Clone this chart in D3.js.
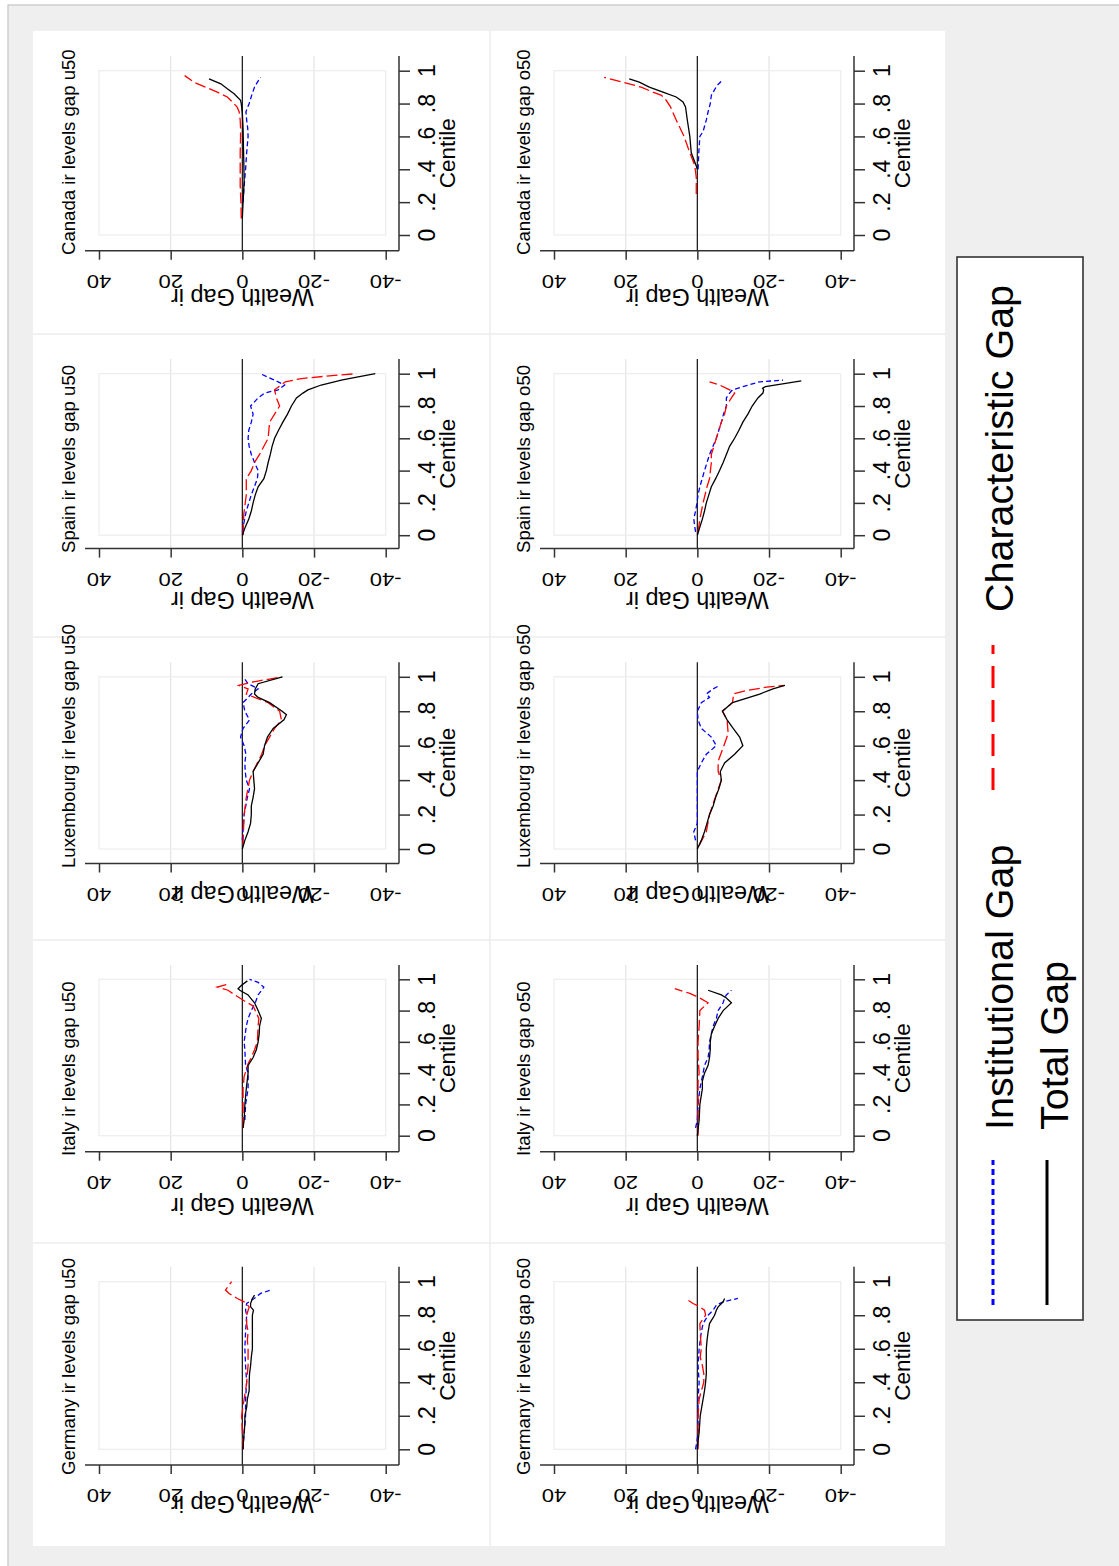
<!DOCTYPE html>
<html><head><meta charset="utf-8">
<script src="https://cdn.jsdelivr.net/npm/d3@7"></script>
<style>body{margin:0;background:#fff}text{font-family:"Liberation Sans",Arial,sans-serif;fill:#000}</style>
</head><body>
<script>
// ---------------- DATA ----------------
const countries = ["Canada","Spain","Luxembourg","Italy","Germany"];
const groups = ["u50","o50"];
const seriesNames = ["Institutional Gap","Characteristic Gap","Total Gap"];
const valueTicks = [40,20,0,-20,-40];
const centileTicks = [0,0.2,0.4,0.6,0.8,1];
const centileLabels = ["0",".2",".4",".6",".8","1"];

// each point: [centile, wealth gap]
const canada_u50_inst = [[0.2,-0.2],[0.3,-0.5],[0.4,-0.9],[0.5,-1.2],[0.6,-1.6],[0.65,-1.5],[0.7,-1.2],[0.75,-1.0],[0.8,-1.9],[0.85,-2.6],[0.9,-3.4],[0.93,-4.2],[0.96,-5.1]];
const canada_u50_char = [[0.1,0.3],[0.2,0.4],[0.3,0.6],[0.4,0.6],[0.5,0.6],[0.6,0.5],[0.65,0.5],[0.7,0.6],[0.75,0.9],[0.78,1.5],[0.81,2.8],[0.84,4.2],[0.87,7],[0.9,10.3],[0.93,13.5],[0.97,16.1]];
const canada_u50_total = [[0.1,0],[0.2,-0.2],[0.33,-0.5],[0.45,-0.4],[0.54,-0.3],[0.65,-0.2],[0.74,0],[0.8,0.3],[0.82,0.5],[0.86,2.3],[0.89,4.2],[0.92,6],[0.95,9.3]];

const canada_o50_inst = [[0.4,-0.2],[0.5,-0.4],[0.6,-0.7],[0.63,-1.6],[0.7,-2.5],[0.75,-3],[0.8,-3.6],[0.85,-3.9],[0.88,-4.7],[0.91,-5.5],[0.94,-6.9]];
const canada_o50_char = [[0.25,0.3],[0.35,0.3],[0.42,0.7],[0.45,1.2],[0.5,2.1],[0.6,3.7],[0.7,5.9],[0.78,7.5],[0.82,8.7],[0.85,10],[0.87,12.4],[0.9,15.7],[0.93,20.8],[0.96,26]];
const canada_o50_total = [[0.4,0],[0.42,0.3],[0.5,1.7],[0.6,2.1],[0.7,2.8],[0.78,3.3],[0.81,4],[0.84,5.9],[0.87,9.6],[0.9,13.4],[0.93,16.2],[0.95,19]];

const spain_u50_inst = [[0.02,0],[0.05,-0.2],[0.15,-1.1],[0.25,-2.5],[0.35,-4.2],[0.4,-4.4],[0.45,-3.4],[0.5,-2.5],[0.55,-1.9],[0.6,-1.6],[0.65,-1.8],[0.7,-2.5],[0.75,-3],[0.8,-2.3],[0.85,-4.4],[0.88,-6.2],[0.9,-10],[0.93,-11.8],[0.96,-9],[1.0,-5]];
const spain_u50_char = [[0.0,-0.2],[0.13,-0.4],[0.25,-1.1],[0.35,-1.1],[0.4,-2.5],[0.45,-3.4],[0.5,-4.8],[0.6,-7.2],[0.7,-7.6],[0.75,-9],[0.8,-10.4],[0.85,-9.5],[0.9,-9],[0.95,-12],[0.97,-16.5],[0.99,-25.8],[1.0,-31.8]];
const spain_u50_total = [[0,0],[0.05,-0.8],[0.1,-1.8],[0.15,-2.5],[0.2,-3],[0.25,-3.6],[0.3,-4.4],[0.35,-6],[0.4,-6.7],[0.45,-7.2],[0.5,-7.8],[0.55,-8.3],[0.6,-9],[0.65,-10.1],[0.7,-11.3],[0.75,-12.6],[0.8,-13.7],[0.85,-15.1],[0.88,-16.9],[0.9,-18.3],[0.93,-22],[0.96,-27.6],[0.98,-32.3],[1.0,-37.1]];

const spain_o50_inst = [[0.02,0.5],[0.05,0.7],[0.1,1],[0.15,0.5],[0.2,0.1],[0.25,-0.2],[0.3,-0.7],[0.4,-2],[0.5,-3.4],[0.6,-5.3],[0.7,-6.7],[0.75,-7.3],[0.8,-8.1],[0.85,-8.1],[0.88,-9],[0.9,-9.8],[0.92,-12.7],[0.95,-17.4],[0.96,-23.9]];
const spain_o50_char = [[0.02,-0.2],[0.1,-0.7],[0.2,-1.6],[0.3,-2.7],[0.35,-3.4],[0.45,-3.9],[0.5,-3.9],[0.55,-4.6],[0.6,-5.3],[0.7,-6.7],[0.75,-7.6],[0.8,-8.1],[0.85,-9.5],[0.88,-10.4],[0.9,-9],[0.93,-6.2],[0.95,-3.4]];
const spain_o50_total = [[0,0],[0.05,-0.7],[0.1,-1.4],[0.15,-2],[0.2,-2.5],[0.25,-3.2],[0.3,-3.9],[0.35,-5.1],[0.4,-6.2],[0.45,-7.2],[0.5,-8.1],[0.55,-9],[0.6,-10.4],[0.65,-11.6],[0.7,-12.7],[0.75,-14.1],[0.8,-15.3],[0.85,-16.9],[0.88,-18.3],[0.9,-18.5],[0.91,-18.2],[0.92,-19],[0.955,-29]];

const luxembourg_u50_inst = [[0.05,0],[0.2,-0.5],[0.3,-1.4],[0.35,-2],[0.4,-1.1],[0.45,-0.8],[0.5,-0.7],[0.55,-1],[0.6,-0.5],[0.65,0.5],[0.7,-0.2],[0.75,-2],[0.8,-0.7],[0.85,-0.2],[0.9,-2.5],[0.93,-4.4],[0.96,-1.6],[1.0,-0.2]];
const luxembourg_u50_char = [[0.02,-0.2],[0.1,-0.3],[0.2,-0.5],[0.3,-1.1],[0.4,-2],[0.45,-3],[0.5,-4.2],[0.55,-5.4],[0.6,-6.2],[0.65,-7.6],[0.7,-9],[0.75,-10.9],[0.8,-10.4],[0.85,-7.2],[0.88,-3.4],[0.9,-1.1],[0.93,-1.6],[0.95,1],[0.97,-3],[1.0,-11]];
const luxembourg_u50_total = [[0,0],[0.05,-0.7],[0.1,-1.6],[0.15,-2.3],[0.2,-2.5],[0.25,-2.5],[0.3,-3],[0.35,-3.4],[0.4,-3.2],[0.45,-3],[0.5,-4.4],[0.55,-5.8],[0.6,-6.2],[0.65,-7],[0.7,-8.6],[0.75,-11.6],[0.78,-12.3],[0.8,-11.1],[0.85,-7.6],[0.88,-4.4],[0.9,-3.4],[0.93,-3.6],[0.96,-4.4],[1.0,-11.2]];

const luxembourg_o50_inst = [[0.05,0.5],[0.1,1],[0.15,0],[0.3,0],[0.45,0],[0.5,-1.1],[0.55,-2.5],[0.6,-5.3],[0.65,-3.9],[0.7,-1.1],[0.75,-0.2],[0.8,0],[0.85,-1.1],[0.88,-3.4],[0.9,-2.5],[0.93,-4.4],[0.95,-6.2]];
const luxembourg_o50_char = [[0.02,-0.5],[0.1,-2.5],[0.2,-3.4],[0.3,-5],[0.4,-6.7],[0.45,-5.8],[0.51,-5.8],[0.6,-7.4],[0.67,-8.6],[0.75,-8.3],[0.8,-7],[0.85,-9.8],[0.88,-10],[0.9,-10],[0.92,-13.7],[0.94,-19.3],[0.95,-24.4]];
const luxembourg_o50_total = [[0,0],[0.05,-1.1],[0.1,-2],[0.15,-2.7],[0.2,-3.4],[0.25,-4.4],[0.3,-5.1],[0.35,-6],[0.4,-6.7],[0.45,-6.4],[0.5,-7.6],[0.55,-10.4],[0.6,-12.7],[0.65,-11.8],[0.7,-10],[0.75,-8.3],[0.8,-7],[0.85,-9.8],[0.9,-17.4],[0.93,-21.1],[0.95,-24.4]];

const italy_u50_inst = [[0.1,-0.7],[0.2,-0.9],[0.3,-1.6],[0.4,-1.6],[0.45,-0.9],[0.5,-0.8],[0.55,-0.7],[0.6,-0.5],[0.7,-1.1],[0.75,-1.6],[0.8,-2.5],[0.85,-3.6],[0.9,-4.4],[0.95,-6],[0.98,-4.4],[1.0,-2]];
const italy_u50_char = [[0.05,-0.2],[0.2,-0.2],[0.3,-0.2],[0.38,-0.5],[0.42,-1.1],[0.46,-1.6],[0.5,-2.5],[0.55,-3.4],[0.6,-4.2],[0.7,-4.4],[0.75,-4.6],[0.8,-3.6],[0.83,-3],[0.86,-0.7],[0.9,2.1],[0.93,4],[0.95,7],[0.97,4]];
const italy_u50_total = [[0.05,-0.2],[0.1,-0.5],[0.2,-0.7],[0.3,-1.1],[0.4,-1.6],[0.45,-1.6],[0.5,-3],[0.55,-3.9],[0.6,-4.4],[0.65,-4.7],[0.7,-4.8],[0.75,-5.3],[0.8,-4.4],[0.85,-3.4],[0.88,-2.3],[0.9,-1.6],[0.93,0.7],[0.94,1.2],[0.96,0.3],[0.99,-1.4]];

const italy_o50_inst = [[0.05,0.5],[0.1,0],[0.2,-0.2],[0.3,-0.7],[0.4,-1.6],[0.45,-2],[0.5,-3],[0.55,-3.3],[0.6,-3.4],[0.7,-4.4],[0.75,-5.3],[0.8,-5.8],[0.85,-7.2],[0.88,-7.6],[0.9,-8.1],[0.93,-9.5]];
const italy_o50_char = [[0,-0.2],[0.2,-0.2],[0.35,-0.2],[0.4,-0.5],[0.5,-0.2],[0.6,-0.2],[0.7,-0.5],[0.8,-0.7],[0.85,-3],[0.88,-0.7],[0.91,2.1],[0.94,6.3]];
const italy_o50_total = [[0,0],[0.1,-0.5],[0.2,-0.7],[0.3,-1.4],[0.35,-1.4],[0.4,-2],[0.45,-3],[0.5,-3.4],[0.55,-3.6],[0.6,-3.6],[0.65,-3.9],[0.7,-4.8],[0.75,-5.8],[0.8,-7.2],[0.83,-8.6],[0.85,-9.5],[0.88,-8.1],[0.9,-6.7],[0.93,-3]];

const germany_u50_inst = [[0,-0.2],[0.1,-0.5],[0.2,-0.9],[0.3,-0.9],[0.4,-1.2],[0.5,-0.9],[0.6,-0.7],[0.7,-0.9],[0.8,-1.2],[0.83,-0.9],[0.87,-1.2],[0.9,-3.3],[0.93,-5.1],[0.95,-7.9]];
const germany_u50_char = [[0,-0.2],[0.1,0],[0.2,0.2],[0.3,-0.5],[0.35,-0.9],[0.4,-1.2],[0.5,-1.6],[0.6,-1.6],[0.65,-1.4],[0.7,-1.6],[0.75,-1.2],[0.8,-1.2],[0.85,-1.9],[0.88,-0.5],[0.9,1.4],[0.93,3.7],[0.95,4.7],[0.98,3.7],[1.0,3]];
const germany_u50_total = [[0,-0.2],[0.05,-0.3],[0.1,-0.5],[0.15,-0.7],[0.2,-0.7],[0.25,-1.2],[0.3,-1.4],[0.35,-1.9],[0.4,-1.9],[0.45,-2],[0.5,-2.3],[0.55,-2.5],[0.6,-2.8],[0.65,-2.8],[0.7,-2.8],[0.75,-2.8],[0.8,-2.8],[0.83,-3.1],[0.85,-2.3],[0.87,-2.3],[0.9,-2.8],[0.92,-3.4]];

const germany_o50_inst = [[0,0.5],[0.05,0.1],[0.1,-0.2],[0.3,-0.2],[0.4,-0.5],[0.5,-0.2],[0.6,-0.5],[0.7,-1.1],[0.75,-1.6],[0.8,-3],[0.83,-4.4],[0.86,-5.3],[0.88,-7.2],[0.9,-11.3]];
const germany_o50_char = [[0,-0.2],[0.2,-0.2],[0.3,-0.5],[0.4,-1.8],[0.45,-1.8],[0.5,-1.4],[0.55,-0.8],[0.6,-1.1],[0.7,-0.8],[0.75,-0.7],[0.8,-2.3],[0.83,-2],[0.85,-0.7],[0.87,1.2],[0.89,2.6]];
const germany_o50_total = [[0,0],[0.05,-0.2],[0.1,-0.5],[0.2,-0.8],[0.3,-1.6],[0.35,-2],[0.4,-2.3],[0.45,-2.5],[0.5,-2.5],[0.6,-2.5],[0.65,-2.7],[0.7,-3],[0.75,-3.4],[0.8,-4.8],[0.83,-5.3],[0.85,-5.8],[0.88,-7.2],[0.9,-7.6]];

const panelSeries = {
  Canada_u50:[canada_u50_inst,canada_u50_char,canada_u50_total],
  Canada_o50:[canada_o50_inst,canada_o50_char,canada_o50_total],
  Spain_u50:[spain_u50_inst,spain_u50_char,spain_u50_total],
  Spain_o50:[spain_o50_inst,spain_o50_char,spain_o50_total],
  Luxembourg_u50:[luxembourg_u50_inst,luxembourg_u50_char,luxembourg_u50_total],
  Luxembourg_o50:[luxembourg_o50_inst,luxembourg_o50_char,luxembourg_o50_total],
  Italy_u50:[italy_u50_inst,italy_u50_char,italy_u50_total],
  Italy_o50:[italy_o50_inst,italy_o50_char,italy_o50_total],
  Germany_u50:[germany_u50_inst,germany_u50_char,germany_u50_total],
  Germany_o50:[germany_o50_inst,germany_o50_char,germany_o50_total]
};

// ---------------- LAYOUT (image is the Stata graph turned 90 deg) ----------------
const W = 1119, H = 1566;
const rowLayout = [
  {top:56,   y1:70.7,  y0:235,    bottom:250.7, tStart:255,  yTitle:289},
  {top:359,  y1:373.7, y0:535.2,  bottom:548.6, tStart:553,  yTitle:592},
  {top:662.2,y1:676.8, y0:849,    bottom:863.5, tStart:868,  yTitle:886},
  {top:965,  y1:979.3, y0:1135.7, bottom:1151.7,tStart:1156, yTitle:1198},
  {top:1266.7,y1:1281.7,y0:1449.3,bottom:1465,  tStart:1475, yTitle:1496}
];
const colOffset = [0, 455];
const styles = [
  {color:"#0000ff", dash:"5,3"},
  {color:"#ff0000", dash:"11,4"},
  {color:"#000000", dash:null}
];

const svg = d3.select("body").append("svg").attr("width",W).attr("height",H);
svg.append("rect").attr("x",8).attr("y",5).attr("width",W).attr("height",H)
  .attr("fill","#efefef").attr("stroke","#c4c4c4").attr("stroke-width",1.2);
svg.append("rect").attr("x",33).attr("y",31).attr("width",912).attr("height",1515).attr("fill","#fff");
// cell separators
[490].forEach(x=>svg.append("line").attr("x1",x).attr("x2",x).attr("y1",31).attr("y2",1546).attr("stroke","#ececec").attr("stroke-width",1.5));
[334,637,940,1243].forEach(y=>svg.append("line").attr("x1",33).attr("x2",945).attr("y1",y).attr("y2",y).attr("stroke","#ececec").attr("stroke-width",1.5));

const fmt = d => String(d);

countries.forEach((country, r) => {
  const L = rowLayout[r];
  groups.forEach((grp, c) => {
    const off = colOffset[c];
    const xs = d3.scaleLinear().domain([40,-40]).range([99+off, 385.7+off]);
    const ys = d3.scaleLinear().domain([0,1]).range([L.y0, L.y1]);
    const axX = 399 + off;
    const g = svg.append("g");

    // gridlines at +-20
    [20,-20].forEach(v => g.append("line").attr("x1",xs(v)).attr("x2",xs(v))
      .attr("y1",L.top).attr("y2",L.bottom).attr("stroke","#e6e6e6").attr("stroke-width",1.3));
    // plot region outline at data extent
    g.append("rect").attr("x",xs(40)).attr("y",ys(1)).attr("width",xs(-40)-xs(40)).attr("height",ys(0)-ys(1))
      .attr("fill","none").attr("stroke","#eeeeee").attr("stroke-width",1.3);
    // reference line at 0
    g.append("line").attr("x1",xs(0)).attr("x2",xs(0)).attr("y1",L.top).attr("y2",L.bottom)
      .attr("stroke","#222").attr("stroke-width",1.3);

    // series
    const line = d3.line().x(d => xs(d[1])).y(d => ys(d[0]));
    panelSeries[country+"_"+grp].forEach((data, i) => {
      g.append("path").attr("d", line(data)).attr("fill","none")
        .attr("stroke", styles[i].color).attr("stroke-width",1.3)
        .attr("stroke-dasharray", styles[i].dash);
    });

    // value axis (bottom)
    const vAxis = d3.axisBottom(xs).tickValues(valueTicks).tickSize(9).tickSizeOuter(0).tickFormat("");
    const va = g.append("g").attr("transform",`translate(0,${L.bottom})`).call(vAxis);
    va.select(".domain").remove();
    va.selectAll(".tick line").attr("stroke","#333").attr("stroke-width",1.5);
    g.append("line").attr("x1",85+off).attr("x2",axX).attr("y1",L.bottom).attr("y2",L.bottom)
      .attr("stroke","#333").attr("stroke-width",1.5);
    valueTicks.forEach(v => g.append("text").text(fmt(v))
      .attr("transform",`translate(${xs(v)},${L.bottom+24.3}) rotate(180) scale(1.1,0.92)`)
      .attr("text-anchor","middle").attr("font-size",20));
    g.append("text").text("Wealth Gap ir")
      .attr("transform",`translate(${xs(0)},${L.yTitle}) rotate(180)`)
      .attr("text-anchor","middle").attr("font-size",23.4);

    // centile axis (right side)
    const cAxis = d3.axisRight(ys).tickValues(centileTicks).tickSize(11).tickSizeOuter(0).tickFormat("");
    const ca = g.append("g").attr("transform",`translate(${axX},0)`).call(cAxis);
    ca.select(".domain").remove();
    ca.selectAll(".tick line").attr("stroke","#333").attr("stroke-width",1.5);
    g.append("line").attr("x1",axX).attr("x2",axX).attr("y1",L.top).attr("y2",L.bottom)
      .attr("stroke","#333").attr("stroke-width",1.5);
    centileTicks.forEach((t,i) => g.append("text").text(centileLabels[i])
      .attr("transform",`translate(${axX+36},${ys(t)}) rotate(-90)`)
      .attr("text-anchor","middle").attr("font-size",23));
    g.append("text").text("Centile")
      .attr("transform",`translate(${axX+56},${(L.top+L.bottom)/2}) rotate(-90)`)
      .attr("text-anchor","middle").attr("font-size",22.5);

    // panel title
    g.append("text").text(`${country} ir levels gap ${grp}`)
      .attr("transform",`translate(${75+off},${L.tStart}) rotate(-90)`)
      .attr("text-anchor","start").attr("font-size",18.6);
  });
});

// ---------------- LEGEND ----------------
const lg = svg.append("g");
lg.append("rect").attr("x",957).attr("y",257).attr("width",126).attr("height",1063)
  .attr("fill","#fff").attr("stroke","#333").attr("stroke-width",1.6);
const legendItems = [
  {name:seriesNames[0], kx:993,  ky0:1305, ky1:1160, tx:1013, ty:1130, color:"#0000ff", dash:"6,4"},
  {name:seriesNames[1], kx:993,  ky0:790,  ky1:645,  tx:1013, ty:612,  color:"#ff0000", dash:"22,12"},
  {name:seriesNames[2], kx:1047, ky0:1305, ky1:1160, tx:1068, ty:1130, color:"#000000", dash:null}
];
legendItems.forEach(it => {
  lg.append("line").attr("x1",it.kx).attr("x2",it.kx).attr("y1",it.ky0).attr("y2",it.ky1)
    .attr("stroke",it.color).attr("stroke-width",3).attr("stroke-dasharray",it.dash);
  lg.append("text").text(it.name)
    .attr("transform",`translate(${it.tx},${it.ty}) rotate(-90)`)
    .attr("text-anchor","start").attr("font-size",39.5);
});
</script>
</body></html>
